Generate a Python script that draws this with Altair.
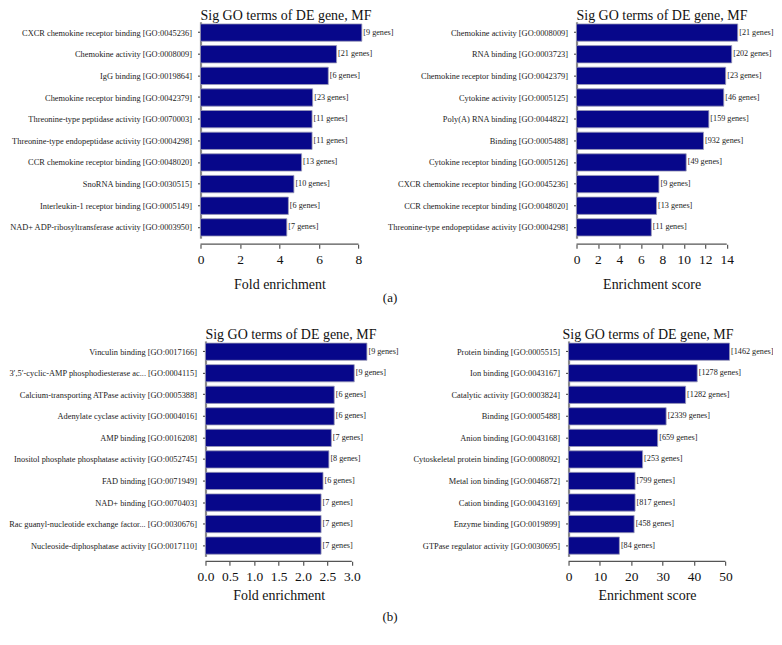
import altair as alt
import pandas as pd

FONT = "Liberation Serif"
BAR = "#07078a"
TITLE = "Sig GO terms of DE gene, MF"

# (a) left: fold enrichment
a1_terms = [
    "CXCR chemokine receptor binding [GO:0045236]",
    "Chemokine activity [GO:0008009]",
    "IgG binding [GO:0019864]",
    "Chemokine receptor binding [GO:0042379]",
    "Threonine-type peptidase activity [GO:0070003]",
    "Threonine-type endopeptidase activity [GO:0004298]",
    "CCR chemokine receptor binding [GO:0048020]",
    "SnoRNA binding [GO:0030515]",
    "Interleukin-1 receptor binding [GO:0005149]",
    "NAD+ ADP-ribosyltransferase activity [GO:0003950]",
]
a1_values = [8.17, 6.89, 6.47, 5.68, 5.65, 5.65, 5.12, 4.73, 4.45, 4.37]
a1_genes = [9, 21, 6, 23, 11, 11, 13, 10, 6, 7]
a1_ticks = [0, 2, 4, 6, 8]

# (a) right: enrichment score
a2_terms = [
    "Chemokine activity [GO:0008009]",
    "RNA binding [GO:0003723]",
    "Chemokine receptor binding [GO:0042379]",
    "Cytokine activity [GO:0005125]",
    "Poly(A) RNA binding [GO:0044822]",
    "Binding [GO:0005488]",
    "Cytokine receptor binding [GO:0005126]",
    "CXCR chemokine receptor binding [GO:0045236]",
    "CCR chemokine receptor binding [GO:0048020]",
    "Threonine-type endopeptidase activity [GO:0004298]",
]
a2_values = [15.02, 14.46, 13.9, 13.72, 12.33, 11.83, 10.22, 7.68, 7.46, 6.97]
a2_genes = [21, 202, 23, 46, 159, 932, 49, 9, 13, 11]
a2_ticks = [0, 2, 4, 6, 8, 10, 12, 14]

# (b) left: fold enrichment
b1_terms = [
    "Vinculin binding [GO:0017166]",
    "3\u2032,5\u2032-cyclic-AMP phosphodiesterase ac... [GO:0004115]",
    "Calcium-transporting ATPase activity [GO:0005388]",
    "Adenylate cyclase activity [GO:0004016]",
    "AMP binding [GO:0016208]",
    "Inositol phosphate phosphatase activity [GO:0052745]",
    "FAD binding [GO:0071949]",
    "NAD+ binding [GO:0070403]",
    "Rac guanyl-nucleotide exchange factor... [GO:0030676]",
    "Nucleoside-diphosphatase activity [GO:0017110]",
]
b1_values = [3.31, 3.05, 2.64, 2.64, 2.58, 2.53, 2.41, 2.37, 2.37, 2.37]
b1_genes = [9, 9, 6, 6, 7, 8, 6, 7, 7, 7]
b1_ticks = [0.0, 0.5, 1.0, 1.5, 2.0, 2.5, 3.0]

# (b) right: enrichment score
b2_terms = [
    "Protein binding [GO:0005515]",
    "Ion binding [GO:0043167]",
    "Catalytic activity [GO:0003824]",
    "Binding [GO:0005488]",
    "Anion binding [GO:0043168]",
    "Cytoskeletal protein binding [GO:0008092]",
    "Metal ion binding [GO:0046872]",
    "Cation binding [GO:0043169]",
    "Enzyme binding [GO:0019899]",
    "GTPase regulator activity [GO:0030695]",
]
b2_values = [51.3, 41.0, 37.3, 31.1, 28.4, 23.6, 21.2, 21.2, 20.9, 16.2]
b2_genes = [1462, 1278, 1282, 2339, 659, 253, 799, 817, 458, 84]
b2_ticks = [0, 10, 20, 30, 40, 50]


def panel(terms, values, genes, ticks, xtitle, px_per_unit, width, height,
          x0=0, axis_off=6, tag=None, tag_y=57, label_fmt="d", clip=False,
          title_pad=10, title_dx=None):
    dmax = (width - x0) / px_per_unit
    axis_end = ticks[-1]
    axis_px = x0 + axis_end * px_per_unit
    df = pd.DataFrame({
        "term": terms,
        "value": values,
        "label": [f"[{g} genes]" for g in genes],
    })
    y = alt.Y(
        "term:N", sort=terms, title=None,
        scale=alt.Scale(paddingInner=0.2, paddingOuter=0.1),
        axis=alt.Axis(labelFont=FONT, labelFontSize=8.4, labelColor="#222",
                      tickSize=3, tickColor="#333", tickWidth=1,
                      domainColor="#8a8a8a", domainWidth=2.2, offset=-x0,
                      labelPadding=6, labelLimit=400, grid=False),
    )
    xaxis = alt.Axis(values=ticks, domain=False, grid=False, tickSize=4,
                     tickColor="#555", tickWidth=1.2, offset=axis_off,
                     orient="bottom",
                     labelFont=FONT, labelFontSize=13.5, labelColor="#111",
                     labelPadding=4, labelFlush=False, format=label_fmt,
                     titleFont=FONT, titleFontSize=14, titleFontWeight="normal",
                     titleColor="#111", titleX=(x0 + axis_px) / 2,
                     titlePadding=title_pad)
    xscale = alt.Scale(domain=[0, dmax], nice=False, zero=True,
                       range=[x0, width])
    base = alt.Chart(df).encode(
        x=alt.X("value:Q", title=xtitle, scale=xscale, axis=xaxis), y=y)
    bars = base.mark_bar(color=BAR, stroke="#9a9ab8", strokeWidth=0.8)
    text = base.mark_text(align="left", baseline="middle", dx=1.5, font=FONT,
                          fontSize=8.2, color="#222", clip=clip
                          ).encode(text="label:N")
    rule_df = pd.DataFrame({"value": [0], "end": [axis_end]})
    rule = alt.Chart(rule_df).mark_rule(color="#555", strokeWidth=1.3).encode(
        x=alt.X("value:Q", title=xtitle, scale=xscale, axis=xaxis),
        x2="end:Q", y=alt.value(height + axis_off))
    layers = [bars, text, rule]
    if tag:
        tag_df = pd.DataFrame({"t": [tag]})
        layers.append(alt.Chart(tag_df).mark_text(
            font=FONT, fontSize=13, color="#111", align="center").encode(
            x=alt.value(190), y=alt.value(height + tag_y), text="t:N"))
    return alt.layer(*layers).properties(
        width=width, height=height,
        view=alt.ViewBackground(stroke="transparent", strokeWidth=0),
        title=alt.TitleParams(TITLE, font=FONT, fontSize=14,
                              fontWeight="normal", color="#111",
                              anchor="start", frame="group", offset=-1,
                              dx=x0 if title_dx is None else title_dx),
    )


# plot areas: a-left at x=200, right column at 569 (a-right bars shifted to 577),
# b-left bars shifted to 205
pa1 = panel(a1_terms, a1_values, a1_genes, a1_ticks, "Fold enrichment",
            19.8, 359, 217, axis_off=6, tag="(a)", tag_y=60, title_pad=12)
pa2 = panel(a2_terms, a2_values, a2_genes, a2_ticks, "Enrichment score",
            10.76, 197, 217, x0=8, axis_off=6, title_pad=12)
pb1 = panel(b1_terms, b1_values, b1_genes, b1_ticks, "Fold enrichment",
            48.9, 359, 216, x0=5, axis_off=5, tag="(b)", tag_y=61,
            label_fmt=".1f", title_pad=6)
pb2 = panel(b2_terms, b2_values, b2_genes, b2_ticks, "Enrichment score",
            3.147, 205, 216, axis_off=5, clip=True, title_pad=6, title_dx=-6)

chart = alt.concat(pa1, pa2, pb1, pb2, columns=2).properties(
    bounds="flush", align="none",
    spacing={"row": 103, "column": 10},
    padding={"left": 0, "top": 0, "right": 0, "bottom": 0},
).configure_view(stroke="transparent", strokeWidth=0).configure(
    background="white")

chart.save("out.html", embed_options={"renderer": "svg", "actions": False})
